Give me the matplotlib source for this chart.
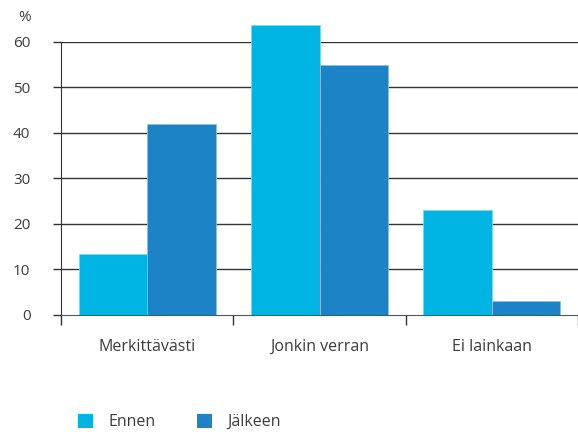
import numpy as np
import matplotlib
matplotlib.use("Agg")
import matplotlib.pyplot as plt
from matplotlib.patches import Patch

# data
categories = ["Merkittävästi", "Jonkin verran", "Ei lainkaan"]
series_names = ["Ennen", "Jälkeen"]
ennen = [13.3, 63.6, 23.0]
jalkeen = [41.9, 54.8, 3.0]
yticks = [0, 10, 20, 30, 40, 50, 60]

colors = ["#00b5e3", "#1b83c6"]
edges = ["#7fd6f0", "#8cc0e2"]
text_col = "#3c3c3c"
font = "Open Sans"

fig = plt.figure(figsize=(5.78, 4.32), dpi=100)
ax = fig.add_axes([61.3 / 578, 117 / 432, (577.7 - 61.3) / 578, (315 - 41.67) / 432])

x = np.arange(len(categories))
w = 0.4
for i, (vals, c, ec) in enumerate(zip([ennen, jalkeen], colors, edges)):
    ax.bar(x - w / 2 + i * w, vals, width=w, color=c, edgecolor=ec, linewidth=0.6,
           zorder=3, clip_on=False)

ax.set_xlim(-0.5, 2.5)
ax.set_ylim(0, 60)

# gridlines at 10..60
ax.set_yticks(yticks)
ax.set_yticklabels([str(t) for t in yticks], fontsize=11, color=text_col, family=font)
for t in yticks[1:]:
    ax.axhline(t, color="#333333", lw=1.0, zorder=1)
ax.tick_params(axis="y", direction="out", length=6, width=1.0, color="#333333", pad=16.2)

# category boundaries as ticks, labels at centres
ax.set_xticks([-0.5, 0.5, 1.5, 2.5])
ax.set_xticklabels([])
ax.tick_params(axis="x", which="major", direction="out", length=7, width=1.0, color="#333333")
ax.set_xticks(x, minor=True)
ax.set_xticklabels(categories, minor=True, fontsize=11.5, color=text_col, family=font)
ax.tick_params(axis="x", which="minor", length=0, pad=17)

for s in ["top", "right"]:
    ax.spines[s].set_visible(False)
ax.spines["left"].set_color("#333333")
ax.spines["bottom"].set_color("#555555")
ax.spines["bottom"].set_zorder(4)

fig.text(25 / 578, 1 - 17.5 / 432, "%", ha="center", va="center", fontsize=11,
         color=text_col, family=font)

handles = [Patch(facecolor=c, edgecolor="none") for c in colors]
fig.legend(handles, series_names, loc="center left", bbox_to_anchor=(78.3 / 578, 10 / 432),
           ncol=2, frameon=False, prop={"family": font, "size": 11.5},
           handlelength=0.94, handleheight=0.94, handletextpad=0.94, columnspacing=2.6,
           borderpad=0, borderaxespad=0, labelcolor=text_col)

fig.savefig("out.png", dpi=100)
